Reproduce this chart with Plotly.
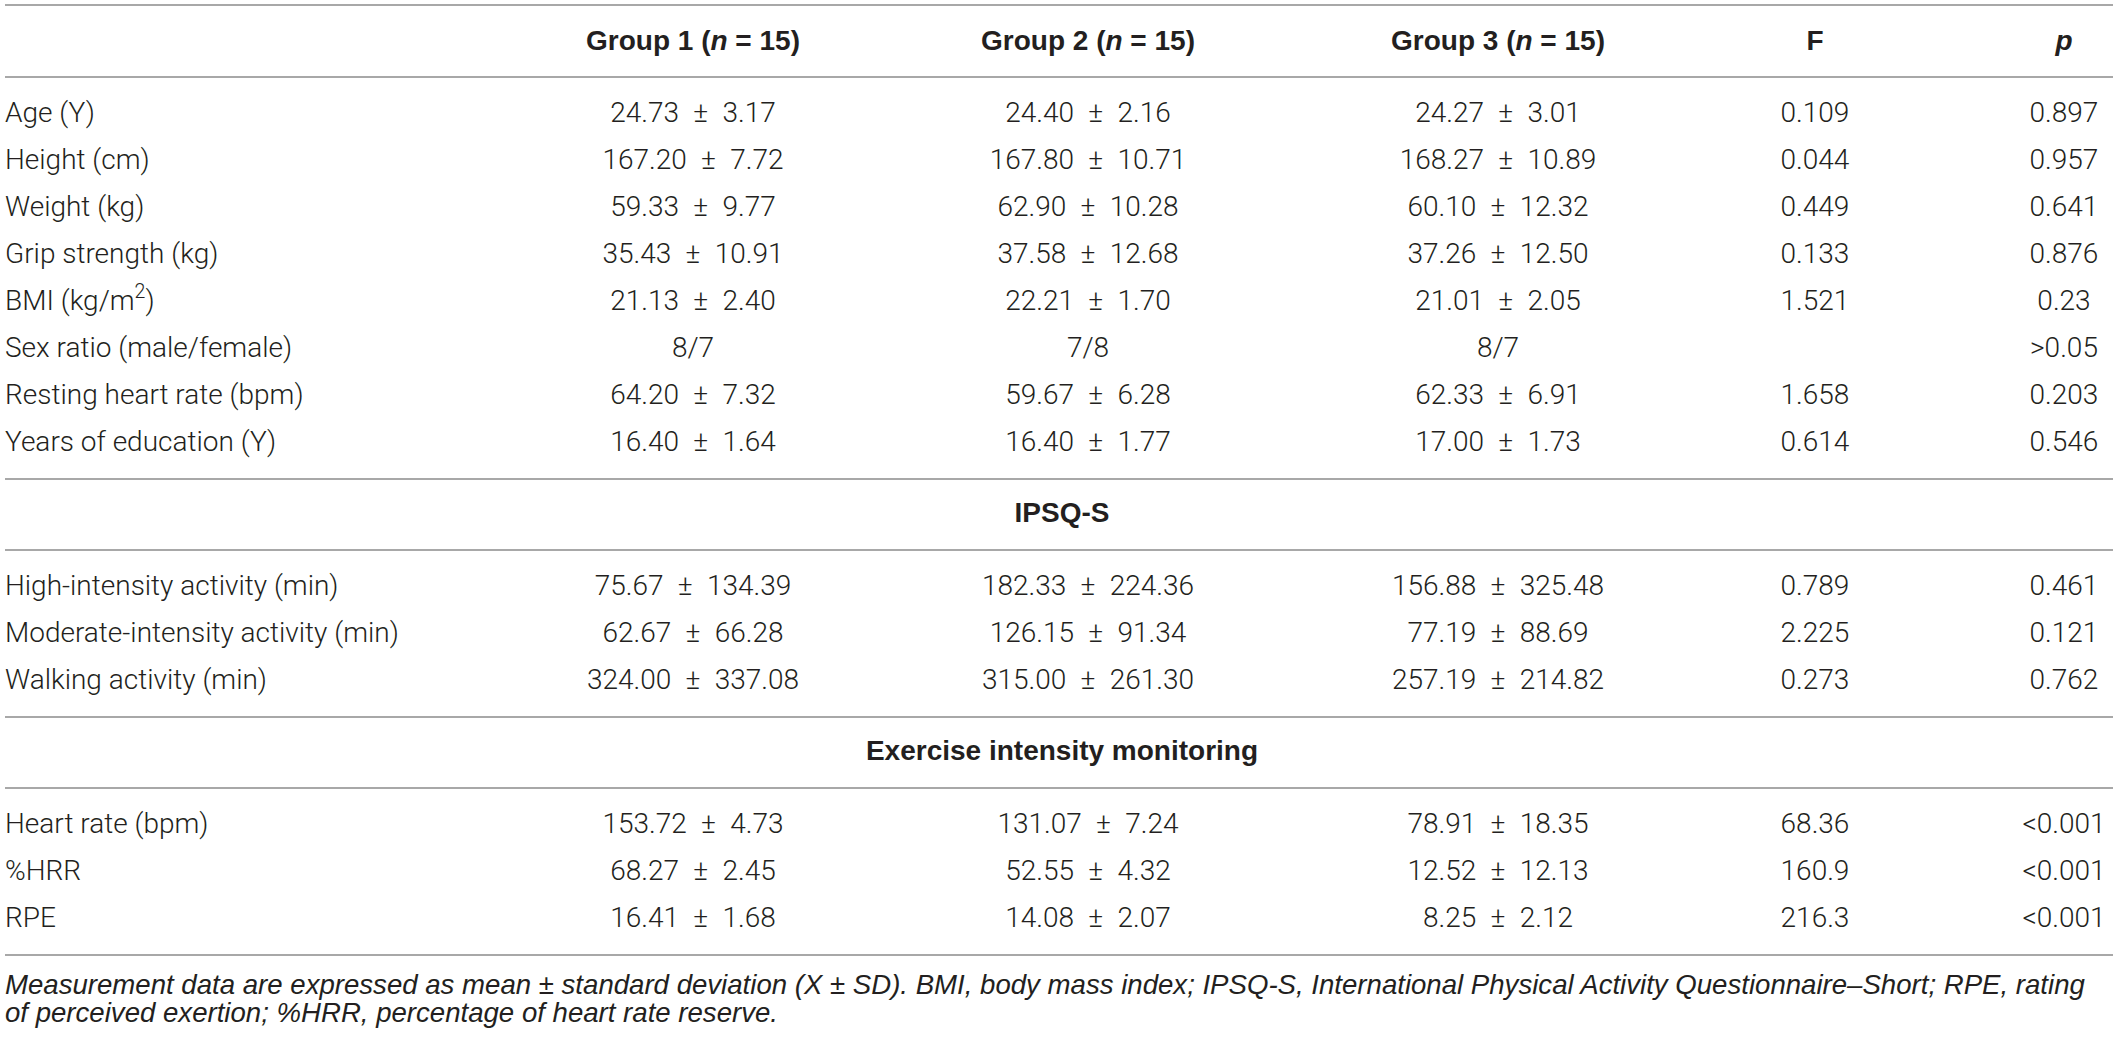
import plotly.graph_objects as go

# ---- table content -------------------------------------------------------
column_headers = ["Group 1 (<i>n</i> = 15)", "Group 2 (<i>n</i> = 15)",
                  "Group 3 (<i>n</i> = 15)", "F", "<i>p</i>"]

general_labels = ["Age (Y)", "Height (cm)", "Weight (kg)", "Grip strength (kg)",
                  "BMI (kg/m<sup>2</sup>)", "Sex ratio (male/female)",
                  "Resting heart rate (bpm)", "Years of education (Y)"]
general_g1 = ["24.73 ± 3.17", "167.20 ± 7.72", "59.33 ± 9.77", "35.43 ± 10.91",
              "21.13 ± 2.40", "8/7", "64.20 ± 7.32", "16.40 ± 1.64"]
general_g2 = ["24.40 ± 2.16", "167.80 ± 10.71", "62.90 ± 10.28", "37.58 ± 12.68",
              "22.21 ± 1.70", "7/8", "59.67 ± 6.28", "16.40 ± 1.77"]
general_g3 = ["24.27 ± 3.01", "168.27 ± 10.89", "60.10 ± 12.32", "37.26 ± 12.50",
              "21.01 ± 2.05", "8/7", "62.33 ± 6.91", "17.00 ± 1.73"]
general_f = ["0.109", "0.044", "0.449", "0.133", "1.521", "", "1.658", "0.614"]
general_p = ["0.897", "0.957", "0.641", "0.876", "0.23", ">0.05", "0.203", "0.546"]

ipsq_title = "IPSQ-S"
ipsq_labels = ["High-intensity activity (min)", "Moderate-intensity activity (min)",
               "Walking activity (min)"]
ipsq_g1 = ["75.67 ± 134.39", "62.67 ± 66.28", "324.00 ± 337.08"]
ipsq_g2 = ["182.33 ± 224.36", "126.15 ± 91.34", "315.00 ± 261.30"]
ipsq_g3 = ["156.88 ± 325.48", "77.19 ± 88.69", "257.19 ± 214.82"]
ipsq_f = ["0.789", "2.225", "0.273"]
ipsq_p = ["0.461", "0.121", "0.762"]

exercise_title = "Exercise intensity monitoring"
exercise_labels = ["Heart rate (bpm)", "%HRR", "RPE"]
exercise_g1 = ["153.72 ± 4.73", "68.27 ± 2.45", "16.41 ± 1.68"]
exercise_g2 = ["131.07 ± 7.24", "52.55 ± 4.32", "14.08 ± 2.07"]
exercise_g3 = ["78.91 ± 18.35", "12.52 ± 12.13", "8.25 ± 2.12"]
exercise_f = ["68.36", "160.9", "216.3"]
exercise_p = ["<0.001", "<0.001", "<0.001"]

footnote_lines = [
    "Measurement data are expressed as mean ± standard deviation (X ± SD). BMI, body mass index; "
    "IPSQ-S, International Physical Activity Questionnaire–Short; RPE, rating",
    "of perceived exertion; %HRR, percentage of heart rate reserve.",
]

# ---- layout geometry (pixels) --------------------------------------------
W, H = 2118, 1039
LEFT, RIGHT = 5, 2113
COL_X = [693, 1088, 1498, 1815, 2064]
MID_X = 1062
TOP_RULE = 5
HEADER_GAP = 38
RULE_TO_ROW = 38
ROW_PITCH = 47
ROW_TO_RULE = 35
TITLE_GAP = 36
FOOT_GAP = 32
FOOT_PITCH = 28

BOLD_FONT = "Liberation Sans, Arial, sans-serif"
BODY_FONT = "Roboto, Liberation Sans, sans-serif"
NOTE_FONT = "Liberation Sans, Arial, sans-serif"
TEXT_COLOR = "#231f20"
RULE_COLOR = "#a8a8a8"


def pm(s):
    # the typeset table uses wide spacing around the plus-minus sign
    return s.replace(" ± ", "\u2002±\u2002")


blocks = [
    (None, general_labels, [general_g1, general_g2, general_g3, general_f, general_p]),
    (ipsq_title, ipsq_labels, [ipsq_g1, ipsq_g2, ipsq_g3, ipsq_f, ipsq_p]),
    (exercise_title, exercise_labels, [exercise_g1, exercise_g2, exercise_g3, exercise_f, exercise_p]),
]

rules = [TOP_RULE]
header_y = TOP_RULE + HEADER_GAP
rules.append(header_y + ROW_TO_RULE - 1)

label_x, label_y, label_t = [], [], []
cell_x, cell_y, cell_t = [], [], []
title_x, title_y, title_t = [], [], []

for title, labels, cols in blocks:
    if title is not None:
        ty = rules[-1] + TITLE_GAP
        title_x.append(MID_X)
        title_y.append(ty)
        title_t.append("<b>%s</b>" % title)
        rules.append(ty + ROW_TO_RULE)
    y = rules[-1] + RULE_TO_ROW
    for i, lab in enumerate(labels):
        ry = y + i * ROW_PITCH
        label_x.append(LEFT)
        label_y.append(ry)
        label_t.append(lab)
        for cx, col in zip(COL_X, cols):
            if col[i]:
                cell_x.append(cx)
                cell_y.append(ry)
                cell_t.append(pm(col[i]))
    rules.append(y + (len(labels) - 1) * ROW_PITCH + ROW_TO_RULE)

fig = go.Figure()

fig.add_trace(go.Scatter(
    x=COL_X, y=[header_y] * len(COL_X), mode="text",
    text=["<b>%s</b>" % h for h in column_headers],
    textposition="middle center",
    textfont=dict(family=BOLD_FONT, size=28, color=TEXT_COLOR),
    hoverinfo="skip"))

fig.add_trace(go.Scatter(
    x=title_x, y=title_y, mode="text", text=title_t,
    textposition="middle center",
    textfont=dict(family=BOLD_FONT, size=28, color=TEXT_COLOR),
    hoverinfo="skip"))

fig.add_trace(go.Scatter(
    x=label_x, y=label_y, mode="text", text=label_t,
    textposition="middle right",
    textfont=dict(family=BODY_FONT, size=28, color=TEXT_COLOR, weight=300),
    hoverinfo="skip"))

fig.add_trace(go.Scatter(
    x=cell_x, y=cell_y, mode="text", text=cell_t,
    textposition="middle center",
    textfont=dict(family=BODY_FONT, size=28, color=TEXT_COLOR, weight=300),
    hoverinfo="skip"))

foot_y0 = rules[-1] + FOOT_GAP
fig.add_trace(go.Scatter(
    x=[LEFT] * len(footnote_lines),
    y=[foot_y0 + i * FOOT_PITCH for i in range(len(footnote_lines))],
    mode="text", text=["<i>%s</i>" % t for t in footnote_lines],
    textposition="middle right",
    textfont=dict(family=NOTE_FONT, size=27.6, color=TEXT_COLOR),
    hoverinfo="skip"))

for ry in rules:
    fig.add_shape(type="line", xref="x", yref="y", x0=LEFT, x1=RIGHT, y0=ry, y1=ry,
                  line=dict(color=RULE_COLOR, width=2))

fig.update_layout(
    width=W, height=H,
    margin=dict(l=0, r=0, t=0, b=0),
    paper_bgcolor="white", plot_bgcolor="white",
    showlegend=False,
    xaxis=dict(range=[0, W], visible=False, fixedrange=True),
    yaxis=dict(range=[H, 0], visible=False, fixedrange=True),
)

fig.write_html("out.html", config={"displayModeBar": False},
               post_script="document.body.style.margin='0';document.body.style.overflow='hidden';")
